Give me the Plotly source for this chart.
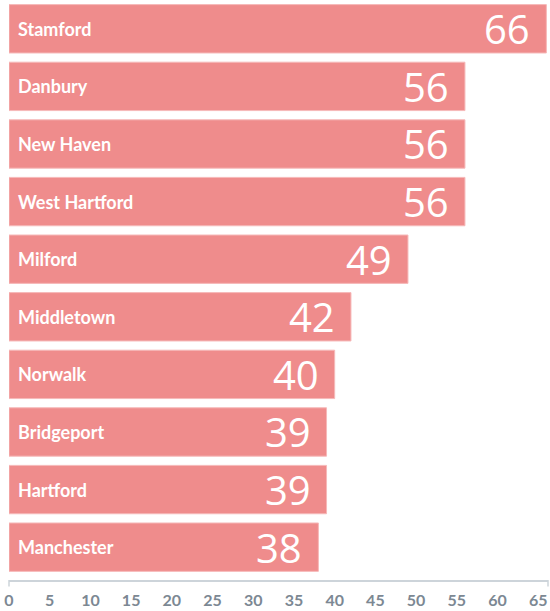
import plotly.graph_objects as go

cities = ["Stamford", "Danbury", "New Haven", "West Hartford", "Milford",
          "Middletown", "Norwalk", "Bridgeport", "Hartford", "Manchester"]
values = [66, 56, 56, 56, 49, 42, 40, 39, 39, 38]
tick_vals = list(range(0, 70, 5))

bar_color = "#EF8C8C"

fig = go.Figure()
fig.add_trace(go.Bar(
    x=values, y=cities, orientation="h",
    marker=dict(color=bar_color, line=dict(color="#F6B9B9", width=1)),
    hoverinfo="skip",
))

for c, v in zip(cities, values):
    fig.add_annotation(x=0, y=c, text=c, showarrow=False, xanchor="left",
                       xshift=7, yshift=0,
                       font=dict(family="Lato", size=18, color="white", weight="bold"))
    fig.add_annotation(x=v, y=c, text=str(v), showarrow=False, xanchor="right",
                       xshift=-14, yshift=0,
                       font=dict(family="Open Sans", size=40, color="white"))

# bracket ends of the x axis line
for xd in (0, 1):
    fig.add_shape(type="line", xref="x domain", yref="paper", x0=xd, x1=xd,
                  y0=0, y1=-0.011, line=dict(color="#CDD4DA", width=1.5))

fig.update_layout(
    width=550, height=611,
    margin=dict(l=9, r=2, t=0, b=31),
    plot_bgcolor="white", paper_bgcolor="white",
    bargap=0.16, showlegend=False,
    xaxis=dict(range=[0, 66.2], tickvals=tick_vals, showgrid=False,
               zeroline=False, showline=True, linecolor="#CDD4DA", linewidth=1.5,
               ticks="", ticklabelstandoff=5, automargin=False,
               tickfont=dict(family="Lato", size=16, color="#7C8893", weight="bold")),
    yaxis=dict(categoryorder="array", categoryarray=cities,
               range=[9.57, -0.5], showticklabels=False, showgrid=False,
               zeroline=False, automargin=False),
)

fig.write_html("out.html", config={"displayModeBar": False},
               post_script="document.body.style.margin='0';document.body.style.padding='0';")
